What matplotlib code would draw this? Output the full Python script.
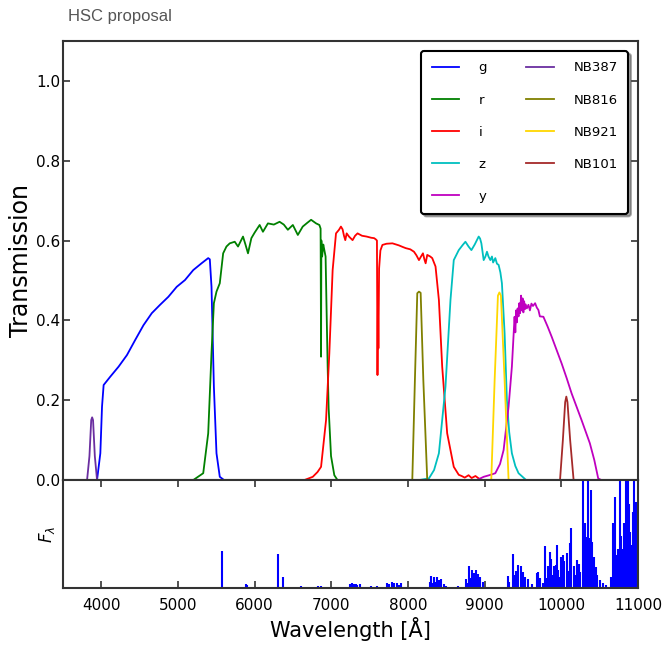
import matplotlib
matplotlib.use("Agg")
import matplotlib.pyplot as plt

# ---- Filter transmission curves (wavelength in Angstrom, transmission) ----
g_wave = [3700, 3944, 3987, 4009, 4030, 4117, 4225, 4334, 4442, 4550, 4658,
          4766, 4874, 4983, 5091, 5199, 5307, 5394, 5415, 5437, 5468, 5502,
          5545, 5600, 7000]
g_trans = [0.0, 0.0, 0.067, 0.184, 0.238, 0.259, 0.284, 0.313, 0.351, 0.388,
           0.418, 0.439, 0.459, 0.484, 0.501, 0.526, 0.543, 0.556, 0.553,
           0.484, 0.234, 0.067, 0.008, 0.0, 0.0]

r_wave = [5200, 5329, 5394, 5437, 5468, 5502, 5545, 5589, 5632, 5675, 5740,
          5783, 5848, 5880, 5913, 5957, 6000, 6065, 6108, 6173, 6250, 6325,
          6380, 6433, 6498, 6563, 6627, 6690, 6736, 6801, 6844, 6860, 6866,
          6870, 6880, 6895, 6909, 6925, 6952, 6965, 6996, 7039, 7080, 7500]
r_trans = [0.0, 0.017, 0.117, 0.318, 0.443, 0.472, 0.493, 0.568, 0.585,
           0.593, 0.597, 0.585, 0.610, 0.590, 0.568, 0.606, 0.620, 0.639,
           0.622, 0.643, 0.640, 0.647, 0.640, 0.627, 0.639, 0.614, 0.635,
           0.645, 0.652, 0.643, 0.639, 0.630, 0.309, 0.600, 0.560, 0.590,
           0.576, 0.560, 0.284, 0.180, 0.060, 0.012, 0.0, 0.0]

i_wave = [6650, 6758, 6820, 6866, 6931, 6974, 7017, 7061, 7100, 7125, 7147,
          7165, 7182, 7200, 7230, 7277, 7310, 7342, 7400, 7460, 7520, 7558,
          7580, 7595, 7602, 7608, 7614, 7623, 7640, 7666, 7720, 7797, 7880,
          7930, 7970, 8030, 8078, 8110, 8143, 8170, 8195, 8215, 8230, 8251,
          8290, 8316, 8359, 8403, 8446, 8511, 8597, 8662, 8700, 8740, 8790,
          8830, 8880, 8922, 8960, 9400]
i_trans = [0.0, 0.008, 0.020, 0.033, 0.150, 0.318, 0.526, 0.618, 0.627,
           0.635, 0.628, 0.612, 0.601, 0.618, 0.610, 0.601, 0.612, 0.618,
           0.612, 0.610, 0.607, 0.606, 0.603, 0.600, 0.263, 0.450, 0.330,
           0.530, 0.575, 0.589, 0.592, 0.593, 0.588, 0.584, 0.581, 0.578,
           0.572, 0.563, 0.551, 0.560, 0.568, 0.552, 0.543, 0.564, 0.560,
           0.556, 0.535, 0.451, 0.284, 0.117, 0.033, 0.013, 0.010, 0.006,
           0.012, 0.005, 0.010, 0.004, 0.0, 0.0]

z_wave = [8150, 8273, 8340, 8403, 8489, 8554, 8597, 8662, 8710, 8749, 8790,
          8827, 8870, 8922, 8940, 8957, 8987, 9010, 9030, 9050, 9074, 9095,
          9110, 9139, 9160, 9182, 9205, 9225, 9260, 9290, 9320, 9355, 9400,
          9442, 9540, 9700]
z_trans = [0.0, 0.004, 0.025, 0.067, 0.234, 0.451, 0.551, 0.576, 0.588,
           0.597, 0.585, 0.576, 0.590, 0.610, 0.605, 0.593, 0.551, 0.560,
           0.572, 0.560, 0.551, 0.560, 0.545, 0.556, 0.542, 0.539, 0.520,
           0.493, 0.368, 0.200, 0.120, 0.067, 0.035, 0.017, 0.0, 0.0]

y_wave = [8900, 8987, 9060, 9139, 9200, 9247, 9312, 9355, 9390, 9400, 9410,
          9420, 9430, 9442, 9452, 9462, 9475, 9485, 9495, 9505, 9515, 9525,
          9535, 9550, 9571, 9590, 9610, 9630, 9658, 9680, 9701, 9720, 9766,
          9820, 9874, 9940, 10004, 10070, 10134, 10200, 10264, 10320, 10372,
          10430, 10481, 10520]
y_trans = [0.0, 0.008, 0.012, 0.017, 0.040, 0.075, 0.184, 0.284, 0.409,
           0.370, 0.425, 0.395, 0.430, 0.410, 0.443, 0.418, 0.462, 0.425,
           0.455, 0.420, 0.448, 0.428, 0.440, 0.430, 0.439, 0.425, 0.442,
           0.436, 0.443, 0.432, 0.426, 0.410, 0.409, 0.385, 0.359, 0.325,
           0.292, 0.255, 0.217, 0.183, 0.150, 0.120, 0.092, 0.050, 0.004, 0.0]

nb387_wave = [3750, 3814, 3845, 3868, 3880, 3892, 3915, 3944, 4000]
nb387_trans = [0.0, 0.0, 0.060, 0.150, 0.157, 0.150, 0.060, 0.0, 0.0]

nb816_wave = [7950, 8056, 8090, 8121, 8143, 8165, 8200, 8251, 8350]
nb816_trans = [0.0, 0.0, 0.250, 0.468, 0.472, 0.469, 0.250, 0.0, 0.0]

nb921_wave = [9000, 9086, 9130, 9173, 9192, 9212, 9260, 9312, 9400]
nb921_trans = [0.0, 0.0, 0.250, 0.462, 0.470, 0.462, 0.250, 0.0, 0.0]

nb101_wave = [9900, 9983, 10020, 10050, 10065, 10080, 10115, 10160, 10250]
nb101_trans = [0.0, 0.0, 0.100, 0.195, 0.209, 0.195, 0.100, 0.0, 0.0]

filter_names = ["g", "r", "i", "z", "y", "NB387", "NB816", "NB921", "NB101"]
filter_colors = ["#0000ff", "#008000", "#ff0000", "#00bfbf", "#bf00bf",
                 "#6a2ea0", "#808000", "#ffd700", "#a52a2a"]
filter_waves = [g_wave, r_wave, i_wave, z_wave, y_wave,
                nb387_wave, nb816_wave, nb921_wave, nb101_wave]
filter_trans = [g_trans, r_trans, i_trans, z_trans, y_trans,
                nb387_trans, nb816_trans, nb921_trans, nb101_trans]

# ---- Night-sky emission lines (relative flux) ----
sky_wave = [5577, 5890, 5896, 6300, 6364, 6500, 6600, 6830, 6860,
            7240, 7270, 7290, 7316, 7340, 7370, 7520, 7590,
            7720, 7750, 7790, 7820, 7850, 7880, 7913,
            8283, 8300, 8320, 8345, 8360, 8375, 8399, 8430, 8465, 8500,
            8652, 8761, 8780, 8795, 8820, 8840, 8860, 8885, 8910, 8940, 8978,
            9304, 9315, 9375, 9395, 9410, 9440, 9470, 9505, 9530, 9560,
            9620, 9680, 9700, 9717,
            9760, 9783, 9800, 9820, 9840, 9855, 9870, 9880, 9905, 9915, 9930,
            9945, 9960, 9987, 10000, 10020, 10040, 10070, 10090, 10110,
            10130, 10160, 10180, 10200, 10215, 10225, 10240,
            10283, 10300, 10312, 10330, 10350, 10374, 10390, 10400, 10430,
            10455, 10470, 10500, 10540, 10587,
            10652, 10680, 10700, 10720, 10740, 10765, 10780, 10800, 10820,
            10840, 10850, 10870, 10885, 10900, 10915, 10930, 10950, 10965,
            10980, 10995]
sky_flux = [0.34, 0.035, 0.03, 0.315, 0.105, 0.01, 0.015, 0.02, 0.015,
            0.04, 0.045, 0.035, 0.04, 0.03, 0.035, 0.02, 0.02,
            0.05, 0.04, 0.055, 0.045, 0.05, 0.03, 0.045,
            0.06, 0.11, 0.05, 0.10, 0.06, 0.10, 0.07, 0.08, 0.04, 0.02,
            0.02, 0.08, 0.05, 0.20, 0.09, 0.167, 0.14, 0.167, 0.13, 0.10, 0.06,
            0.11, 0.06, 0.315, 0.12, 0.16, 0.213, 0.20, 0.15, 0.10, 0.08,
            0.04, 0.136, 0.15, 0.09,
            0.05, 0.389, 0.09, 0.20, 0.14, 0.336, 0.27, 0.12, 0.20, 0.09, 0.21,
            0.398, 0.17, 0.10, 0.284, 0.306, 0.25, 0.32, 0.16, 0.414, 0.552,
            0.20, 0.12, 0.26, 0.18, 0.22, 0.15,
            1.0, 0.44, 0.60, 0.47, 1.0, 0.46, 0.907, 0.43, 0.29,
            0.19, 0.12, 0.07, 0.05, 0.03,
            0.10, 0.60, 0.846, 0.31, 0.36, 1.0, 0.48, 0.36, 0.60, 1.0,
            0.63, 1.0, 0.78, 0.52, 0.40, 0.70, 1.0, 0.55, 0.80, 0.45]
sky_cont_wave = [3800, 11000]
sky_cont_flux = [0.0, 0.0]

x_ticks = [4000, 5000, 6000, 7000, 8000, 9000, 10000, 11000]
y_ticks = [0.0, 0.2, 0.4, 0.6, 0.8, 1.0]

plt.rcParams["font.family"] = "DejaVu Sans"
spine_color = "#333333"

fig = plt.figure(figsize=(6.62, 6.45), dpi=100)
ax = fig.add_axes([63 / 662, 1 - 480 / 645, 575 / 662, 439 / 645])
axs = fig.add_axes([63 / 662, 1 - 588 / 645, 575 / 662, 108 / 645], sharex=ax)

for name, col, w, t in zip(filter_names, filter_colors, filter_waves, filter_trans):
    ax.plot(w, t, color=col, lw=1.3, label=name)

ax.set_xlim(3500, 11000)
ax.set_ylim(0, 1.1)
ax.set_yticks(y_ticks)
ax.set_yticklabels([f"{v:.1f}" for v in y_ticks])
ax.set_ylabel("Transmission", fontsize=17, labelpad=2)
ax.tick_params(axis="x", which="both", bottom=False, top=False,
               labelbottom=False)
ax.tick_params(axis="y", direction="in", left=True, right=True, length=5,
               width=1.2, color=spine_color, labelsize=11, pad=2)

leg = ax.legend(ncol=2, loc="upper right", fontsize=9.5, frameon=True,
                fancybox=True, shadow=True, handlelength=2.05,
                handletextpad=1.5, columnspacing=3.0, labelspacing=1.45,
                borderpad=0.8, borderaxespad=0.75)
leg.get_frame().set_edgecolor("black")
leg.get_frame().set_linewidth(1.5)
leg.get_frame().set_alpha(1.0)

axs.plot(sky_cont_wave, sky_cont_flux, color="#0000ff", lw=1.0)
axs.vlines(sky_wave, 0, sky_flux, color="#0000ff", lw=1.5)
axs.set_ylim(0, 1.0)
axs.set_yticks([])
axs.set_ylabel(r"$F_\lambda$", fontsize=12)
axs.set_xticks(x_ticks)
axs.set_xlim(3500, 11000)
axs.tick_params(axis="x", direction="in", top=True, bottom=True, length=5,
                width=1.2, color=spine_color, labelsize=11, pad=7)
axs.set_xlabel("Wavelength [Å]", fontsize=15, labelpad=3)

for a in (ax, axs):
    for s in a.spines.values():
        s.set_color(spine_color)
        s.set_linewidth(1.5)

fig.text(68 / 662, 1 - 16 / 645, "HSC proposal", fontsize=12,
         family="Liberation Sans", color="#555555", va="center", ha="left")

fig.savefig("out.png", dpi=100)
